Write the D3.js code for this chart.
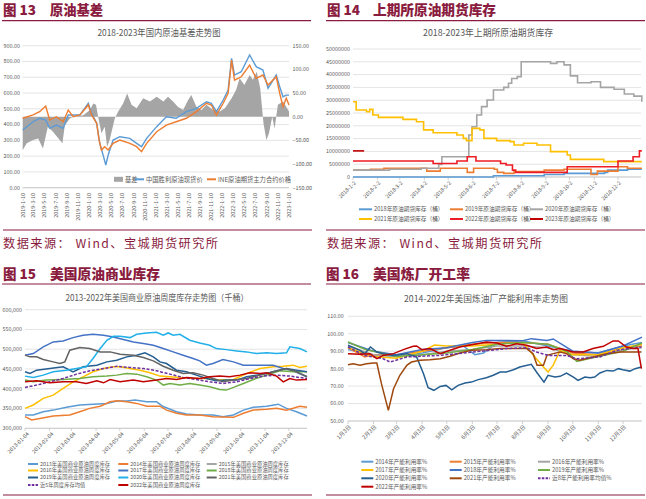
<!DOCTYPE html>
<html><head><meta charset="utf-8">
<script src="https://cdn.jsdelivr.net/npm/d3@7"></script>
<style>
body{margin:0;background:#fff}
svg{display:block}
text{font-family:"Noto Sans CJK SC","Noto Sans",sans-serif}
</style>
</head><body><svg id="c" width="646" height="499"></svg>
<script>
// ================= DATA =================
// Chart 13: 2018-2023 domestic crude basis (date, value)
const c13Basis = [["2019-01-10",-71],["2019-02-01",-56],["2019-03-08",-49],["2019-04-05",-46],["2019-05-01",-67],["2019-05-28",-21],["2019-06-25",-32],["2019-08-01",-49],["2019-08-16",-56],["2019-08-29",-18],["2019-09-26",-4],["2019-10-14",0],["2019-12-08",3],["2020-01-14",14],["2020-02-01",28],["2020-02-16",25],["2020-02-28",0],["2020-03-17",-35],["2020-04-04",-21],["2020-04-17",-64],["2020-05-01",-49],["2020-05-29",-4],["2020-06-17",11],["2020-07-14",28],["2020-08-05",49],["2020-08-29",25],["2020-09-26",18],["2020-11-01",39],["2020-12-08",32],["2021-01-14",42],["2021-02-20",32],["2021-03-17",42],["2021-04-14",32],["2021-05-10",21],["2021-06-08",14],["2021-07-05",35],["2021-07-23",46],["2021-08-20",21],["2021-09-17",14],["2021-10-14",25],["2021-11-20",14],["2021-12-26",11],["2022-01-23",18],["2022-02-10",28],["2022-03-01",39],["2022-03-26",57],["2022-04-14",81],["2022-05-10",67],["2022-06-08",88],["2022-06-26",78],["2022-07-17",95],["2022-08-05",60],["2022-08-23",-14],["2022-09-08",-49],["2022-09-22",-35],["2022-10-10",0],["2022-10-23",-25],["2022-11-10",25],["2022-12-08",32],["2023-01-10",11]];
const c13Spot = [["2019-01-10",366],["2019-03-08",418],["2019-04-13",440],["2019-05-16",429],["2019-06-07",376],["2019-07-14",397],["2019-08-20",376],["2019-09-17",461],["2019-10-14",461],["2019-11-20",461],["2020-01-05",535],["2020-01-23",471],["2020-02-20",408],["2020-03-08",281],["2020-03-26",207],["2020-04-10",144],["2020-04-23",207],["2020-05-20",302],["2020-06-26",323],["2020-08-20",313],["2020-09-26",281],["2020-10-23",260],["2020-11-20",313],["2021-01-14",387],["2021-03-08",450],["2021-05-01",440],["2021-06-26",482],["2021-08-20",503],["2021-10-14",545],["2021-11-10",535],["2021-12-08",482],["2022-01-14",556],["2022-02-10",619],["2022-03-01",820],["2022-03-17",714],["2022-04-23",735],["2022-06-08",841],["2022-07-14",767],["2022-08-20",746],["2022-09-17",630],["2022-11-01",714],["2022-11-20",640],["2022-12-08",577],["2022-12-26",587],["2023-01-10",587]];
const c13Fut = [["2019-01-10",440],["2019-03-08",461],["2019-04-13",482],["2019-05-16",518],["2019-06-07",429],["2019-07-14",450],["2019-08-20",418],["2019-09-17",492],["2019-10-14",450],["2019-11-20",461],["2020-01-05",524],["2020-01-23",461],["2020-02-20",408],["2020-03-04",302],["2020-03-17",239],["2020-04-04",260],["2020-04-23",239],["2020-05-20",281],["2020-06-26",302],["2020-08-20",281],["2020-09-26",260],["2020-10-23",228],["2020-11-20",281],["2021-01-14",355],["2021-03-08",397],["2021-05-01",418],["2021-06-26",440],["2021-08-20",482],["2021-10-14",535],["2021-11-10",524],["2021-12-08",461],["2022-01-14",535],["2022-02-10",598],["2022-03-01",809],["2022-03-17",682],["2022-04-23",703],["2022-06-08",777],["2022-07-14",693],["2022-08-20",714],["2022-09-17",651],["2022-11-01",703],["2022-11-20",598],["2022-12-08",513],["2022-12-26",567],["2023-01-10",524]];
const c13LeftTicks = [0,100,200,300,400,500,600,700,800,900];
const c13RightTicks = [-150,-100,-50,0,50,100,150];
const c13XLabels = ["2019-1-10","2019-3-10","2019-5-10","2019-7-10","2019-9-10","2019-11-10","2020-1-10","2020-3-10","2020-5-10","2020-7-10","2020-9-10","2020-11-10","2021-1-10","2021-3-10","2021-5-10","2021-7-10","2021-9-10","2021-11-10","2022-1-10","2022-3-10","2022-5-10","2022-7-10","2022-9-10","2022-11-10","2023-1-10"];
const c13Legend = ["基差","中国胜利原油现货价","INE原油期货主力合约价格"];

// Chart 14: SHFE crude futures inventory, [day offset from 1-2, barrels] (step series)
const c14Inv2018 = [[0,0],[177,500000],[241,1000000],[266,1400000],[317,1800000],[321,2700000],[346,3000000],[364,3000000]];
const c14Inv2019 = [[0,2700000],[22,3000000],[39,3400000],[93,2300000],[110,3400000],[144,1800000],[152,3400000],[178,3000000],[182,1800000],[190,1400000],[203,2100000],[241,2700000],[266,3000000],[300,1000000],[308,2300000],[334,4000000],[346,3400000],[364,3400000]];
const c14Inv2020 = [[0,2700000],[46,3000000],[86,3400000],[108,4900000],[112,7900000],[142,7900000],[146,16400000],[150,19600000],[156,24200000],[162,27500000],[169,30100000],[177,34000000],[190,35000000],[196,36600000],[200,38500000],[207,39200000],[212,45000000],[249,44400000],[257,45000000],[266,43800000],[274,39500000],[283,36800000],[300,37200000],[312,35000000],[329,34300000],[342,32400000],[354,31600000],[364,29400000]];
const c14Inv2021 = [[0,29400000],[4,26200000],[17,25500000],[21,26400000],[25,24200000],[32,23300000],[63,22500000],[80,21600000],[89,18400000],[101,17300000],[131,16400000],[139,15100000],[143,14200000],[150,19000000],[160,18400000],[165,15100000],[181,14200000],[198,13800000],[203,12500000],[215,13200000],[232,12500000],[249,9900000],[270,8600000],[274,6900000],[316,6000000],[364,6000000]];
const c14Inv2022 = [[0,6250000],[101,5300000],[131,6250000],[144,7900000],[155,6250000],[186,5300000],[193,4700000],[201,2700000],[205,1800000],[270,4000000],[334,6250000],[353,7900000],[361,10200000],[364,10200000]];
const c14Inv2023 = [[0,10200000],[14,10200000]];
const c14YTicks = [0,5000000,10000000,15000000,20000000,25000000,30000000,35000000,40000000,45000000,50000000];
const c14XLabels = ["2018-1-2","2018-2-2","2018-3-2","2018-4-2","2018-5-2","2018-6-2","2018-7-2","2018-8-2","2018-9-2","2018-10-2","2018-11-2","2018-12-2"];
const c14Legend = ["2018年原油期货库存（桶）","2019年原油期货库存（桶）","2020年原油期货库存（桶）","2021年原油期货库存（桶）","2022年原油期货库存（桶）","2023年原油期货库存（桶）"];

// Chart 15: US commercial crude stocks, [week index, thousand-thousand barrels]
const c15S2013 = [[0,333.6],[1.5,333.6],[3.3,342],[5.1,346],[7.5,353],[9.9,359],[12.3,361],[14.8,363],[16.6,369],[18.4,369],[19.9,371.4],[22,367],[23.8,367],[25,355],[27.4,342],[29.2,336],[31.6,333.6],[34,333.6],[35.8,329.4],[37.7,333.6],[39.5,346],[41.3,353],[43.7,356],[45.8,361],[47.3,350.4],[49.1,342],[51,331]];
const c15S2014 = [[0,329.4],[1.2,321],[2.7,325],[5.1,331],[8.1,333.6],[9.9,342],[11.7,350.4],[13.6,356],[15.4,367],[16.6,369.8],[18.4,367],[20.2,363],[22,356],[24.4,356],[25.6,346],[27.4,338],[29.2,333.6],[31.6,333.6],[34,329.4],[37.7,327.7],[39.5,338],[41.3,346],[43.7,348],[45.5,350.4],[47.3,346],[49.7,356],[51,353]];
const c15S2016 = [[0,350.4],[1.5,359],[3.3,375.6],[5.1,384],[6.9,400.8],[8.7,417.6],[10.5,430],[12.3,443],[14.2,451.3],[16,455.5],[17.2,455.5],[19,451.3],[20.8,447],[22.6,440.3],[24.4,432],[26.2,430.3],[28,428.6],[30.4,426],[32.8,426],[35.2,421.9],[37.7,423.5],[40.1,438.7],[42.5,451.3],[44.9,455.5],[46.7,457],[48.5,459.7],[49.7,453.8],[51,457]];
const c15S2017 = [[0,485],[1.5,489],[3.3,506],[5.1,518.5],[6.9,521],[8.7,529.4],[10.5,535.3],[12.3,537.8],[14.2,535.3],[16,531],[17.8,524.4],[19.6,518.5],[21.4,514.3],[23.2,510],[25,501.7],[26.8,493.3],[28.6,485],[30.4,476.5],[31.6,470.6],[32.8,459.7],[34,464],[35.8,474],[37.7,468],[39.5,459.7],[41.3,459.7],[43.1,459.7],[44.9,459.7],[46.7,451.3],[48.5,445.4],[51,430.3]];
const c15S2018 = [[0,421.9],[1.5,417.6],[3.9,421.9],[6.9,423.5],[9.9,426],[12.3,430.3],[14.8,432],[16.6,434.5],[18.4,438.7],[20.2,437],[22,430.3],[23.8,421.9],[25,409.3],[26.2,413.5],[28,409.3],[29.8,413.5],[31.6,409.3],[33.4,405],[35.2,398.3],[36.4,396.6],[37.7,403.4],[39.5,413.5],[41.3,423.5],[43.7,434.5],[46.1,445.4],[48.5,442.9],[51,442.9]];
const c15S2019 = [[0,442.9],[0.9,438.7],[2.1,447],[4.5,451.3],[6.9,455.5],[8.7,442.9],[10.5,455.5],[13,459.7],[14.8,468],[16.6,472.3],[18.4,480.7],[20.2,484.9],[21.7,490.8],[23.2,480.7],[24.4,468],[25.6,463.9],[27.4,447],[29.2,442.9],[31,434.5],[32.8,426],[34.6,420.2],[36.4,421.9],[38.3,421.9],[40.1,430.3],[41.9,434.5],[43.7,438.7],[45.5,445.4],[47.3,451.3],[49.1,447],[51,442.9]];
const c15S2020 = [[0,432],[1.5,428.6],[3.3,434.5],[5.1,442.9],[7.5,447],[9.3,451.3],[11.1,455.5],[12.3,476.5],[13.6,501.7],[14.8,522.7],[16,532.8],[17.2,532.8],[19,529.4],[20.2,537.8],[22,541.2],[23.8,542.9],[25,535.3],[25.9,541.2],[26.8,535.3],[28,537.8],[29.8,522.7],[31.6,516],[33.4,510],[34.6,501.7],[36.4,499],[38.3,495.8],[40.1,493.3],[41.9,489],[43.7,490.8],[45.5,489],[47.3,490.8],[47.9,506],[49.7,501.7],[51,493.3]];
const c15S2021 = [[0,485],[0.9,480.7],[2.1,480.7],[3.3,474],[5.1,468],[6.3,463.9],[7.2,468],[8.1,497.5],[9.9,504.2],[11.7,501.7],[13.6,493.3],[15.4,493.3],[17.2,487.4],[19.6,484.9],[21.4,479],[23.2,470.6],[25,457],[26.8,447],[28.6,438.7],[30.4,440.3],[32.2,434.5],[34,426],[35.8,417.6],[37.7,421.9],[40.1,426],[42.5,434.5],[44.9,442.9],[47.3,451.3],[49.1,442.9],[51,430.3]];
const c15Avg5 = [[0,403.4],[2.1,409.3],[4.5,417.6],[6.9,426],[9.3,437],[11.7,445.4],[14.2,451.3],[16.6,457],[19,453.8],[21.4,451.3],[23.8,445.4],[26.2,437],[28.6,428.6],[31,423.5],[33.4,417.6],[35.8,413.5],[38.3,417.6],[40.7,426],[43.1,432],[45.5,434.5],[47.9,432],[51,426]];
const c15S2022 = [[0,417.6],[2.1,420.2],[4.5,415.1],[6.9,417.6],[9.3,417.6],[11.1,413.5],[13,420.2],[14.2,415.1],[15.4,423.5],[17.2,417.6],[19.6,421.9],[21.4,417.6],[23.8,421.9],[25.6,426],[27.4,423.5],[29.2,428.6],[31.6,426],[33.4,430.3],[35.2,432],[37,430.3],[38.9,434.5],[40.7,440.3],[42.5,438.7],[43.7,440.3],[45.5,432],[46.7,417.6],[47.9,426],[49.1,421.9],[51,423.5]];
const c15YTicks = [300,350,400,450,500,550,600];
const c15XLabels = ["2013-01-04","2013-02-04","2013-03-04","2013-04-04","2013-05-04","2013-06-04","2013-07-04","2013-08-04","2013-09-04","2013-10-04","2013-11-04","2013-12-04"];
const c15Legend = ["2013年美国商业原油周度库存","2014年美国商业原油周度库存","2015年美国商业原油周度库存","2016年美国商业原油周度库存","2017年美国商业原油周度库存","2018年美国商业原油周度库存","2019年美国商业原油周度库存","2020年美国商业原油周度库存","2021年美国商业原油周度库存","近5年周度库存均值","2022年美国商业原油周度库存"];

// Chart 16: US refinery utilization, [week index, %]
const c16R2014 = [[0,91],[4.4,88],[8.4,87],[12.9,89],[17.1,92],[20,93],[22,88],[23.5,89],[25.9,95],[30.3,96],[34.7,93],[39,90],[43.4,89],[47.7,93],[51,95]];
const c16R2015 = [[0,92],[2.9,86.7],[4.4,88],[8.4,88],[12.9,90],[17.1,92],[21.6,94],[25.9,95],[30.3,95],[34.7,94],[39,89],[43.4,88],[47.7,92],[51,93]];
const c16R2016 = [[0,93],[4.4,88],[8.4,87],[12.9,88],[17.1,90],[21.6,91],[25.9,93],[30.3,93],[34.7,92],[39,88],[43.4,87],[47.7,91],[51,92]];
const c16R2017 = [[0,92],[4.4,87],[8.4,86],[12.9,90],[15,93.5],[17.1,93],[21.6,93],[25.9,94],[30.3,95],[33.9,81],[34.7,78.1],[35.6,82],[36.8,90.5],[39,88],[43.4,88],[47.7,92],[51,94]];
const c16R2018 = [[0,95],[4.4,90],[8.4,88],[12.9,91],[17.1,92],[21.6,95],[24,96.2],[26.4,96.2],[30.3,96],[31.8,97.2],[34.5,96.2],[35.6,97],[39,90],[43.4,89],[47.7,93],[51,98.1]];
const c16R2019 = [[0,95.3],[3,91],[4.4,90],[8.4,87],[12.9,88],[17.1,89],[21.6,91],[25.9,94],[30.3,95],[34.7,94],[37.9,90],[39.7,84.2],[43.4,87],[47.7,90],[51,94.7]];
const c16R2020 = [[0,93.4],[2.1,90.5],[2.9,88.6],[3.9,92.4],[5,89.5],[6.1,88.6],[7.9,87.6],[10.2,88.6],[11.9,86.7],[13.1,77.1],[13.9,69.1],[14.9,67.6],[16,69.8],[17,70.4],[18,67.9],[19.1,70.4],[20.3,71.8],[21.4,72.3],[22.6,73.7],[24,74.8],[25.2,76.2],[26.4,78.1],[27.5,78.1],[28.7,79.4],[29.8,80.9],[31.8,82.5],[32.7,78.1],[34,72.3],[34.7,76.2],[35.9,75.2],[36.8,75.6],[37.9,77.5],[39.1,75.2],[39.9,73.3],[41.1,75.2],[42,74.8],[42.8,75.2],[43.7,77.5],[44.9,79],[46,78.6],[46.9,80],[47.7,79.4],[48.9,78.6],[49.8,80],[50.9,80.9]];
const c16R2021 = [[0,82.3],[0.9,82.8],[2.1,81.9],[3.2,82.8],[4.4,83.2],[5,83.2],[5.8,71.4],[7,56.1],[7.9,68.5],[9,76.2],[10.2,81.9],[11,83.8],[12.5,84.8],[14.2,85.1],[16,85.7],[17.7,87.1],[19.4,89],[21.4,90.5],[24,90.9],[26.4,91.5],[28.7,91.5],[31,91.5],[32.1,88.6],[32.8,81.9],[33.9,81.9],[34.5,87.6],[35.6,88.6],[36.8,89.5],[37.9,88.6],[39.1,85.7],[40.2,84.8],[42.5,86.7],[44.9,88.6],[47.2,89.5],[48.9,89.5],[50.9,89.5]];
const c16Avg8 = [[0,92.4],[2.9,87.6],[6.1,85.7],[7.3,83.8],[10.2,86.7],[16,87.6],[21.7,89.5],[27.5,91.5],[31,92],[32.7,89.5],[34.7,87.6],[37.9,87.6],[39.7,85.7],[43.7,86.7],[46.6,90.5],[50.9,92.4]];
const c16R2022 = [[0,88.6],[2.1,88.2],[3.8,88.6],[5,85.7],[6.1,87.6],[7.9,88.6],[9.6,90.9],[11.3,92.8],[11.9,93],[12.8,90.9],[14.2,91.5],[16,88.6],[17.7,90.5],[19.4,92.4],[21.7,93.9],[24,95.3],[25.8,94.7],[27.5,92.8],[29.2,94.3],[31,93.4],[32.7,91.5],[34.5,92.4],[35.6,90.9],[36.8,91.5],[39.1,89.5],[40.8,89.5],[42.5,91.5],[44.3,92.8],[46,95.9],[46.9,95.9],[48.3,92.4],[49.5,91.5],[50.3,91.5],[50.9,80]];
const c16YTicks = [50,60,70,80,90,100,110];
const c16XLabels = ["1月3日","2月3日","3月3日","4月3日","5月3日","6月3日","7月3日","8月3日","9月3日","10月3日","11月3日","12月3日"];
const c16Legend = ["2014年产能利用率%","2015年产能利用率%","2016年产能利用率%","2017年产能利用率%","2018年产能利用率%","2019年产能利用率%","2020年产能利用率%","2021年产能利用率%","近8年产能利用率均值%","2022年产能利用率%"];

// ================= DRAW =================
const svg = d3.select("#c");
svg.append("rect").attr("width",646).attr("height",499).attr("fill","#fff");
const MAROON = "#8a1c40", TXT = "#595959", GRID = "#d9d9d9";
const parse = d3.timeParse("%Y-%m-%d");

function header(x, y, num, title, tx, tw) {
  svg.append("text").attr("x", x).attr("y", y).attr("fill", MAROON)
    .attr("font-size", 13.5).attr("font-weight", 900).text("图 " + num);
  svg.append("text").attr("x", tx).attr("y", y).attr("fill", MAROON)
    .attr("font-size", 13.5).attr("font-weight", 900)
    .attr("textLength", tw).attr("lengthAdjust", "spacingAndGlyphs").text(title);
}
function sep(x1, x2, y) {
  svg.append("line").attr("x1", x1).attr("x2", x2).attr("y1", y).attr("y2", y)
    .attr("stroke", MAROON).attr("stroke-width", 1.2);
}
function footer(x, y) {
  svg.append("text").attr("x", x).attr("y", y).attr("fill", MAROON).attr("font-size", 12.2)
    .attr("textLength", 215).attr("lengthAdjust", "spacing")
    .text("数据来源：  Wind、宝城期货研究所");
}
function ctitle(cx, y, t, w, fs) {
  svg.append("text").attr("x", cx - w / 2).attr("y", y).attr("fill", TXT).attr("font-size", fs)
    .attr("textLength", w).attr("lengthAdjust", "spacingAndGlyphs").text(t);
}
function gridH(ticks, y, x1, x2) {
  svg.append("g").selectAll("line").data(ticks).join("line")
    .attr("x1", x1).attr("x2", x2).attr("y1", d => y(d)).attr("y2", d => y(d))
    .attr("stroke", GRID).attr("stroke-width", 0.7);
}
function yLabels(ticks, y, x, anchor, fmt) {
  svg.append("g").selectAll("text").data(ticks).join("text")
    .attr("x", x).attr("y", d => y(d)).attr("dy", "0.35em").attr("text-anchor", anchor)
    .attr("font-size", 5.4).attr("fill", TXT).text(fmt);
}
function legendLine(x, y, color, label, fs, dash, len) {
  const g = svg.append("g");
  g.append("line").attr("x1", x).attr("x2", x + (len || 12)).attr("y1", y).attr("y2", y)
    .attr("stroke", color).attr("stroke-width", 2).attr("stroke-dasharray", dash || null);
  g.append("text").attr("x", x + (len || 12) + 2).attr("y", y).attr("dy", "0.35em")
    .attr("font-size", fs).attr("fill", TXT).text(label);
}

// ---------- Headers & frames ----------
header(3, 14.5, "13", "原油基差", 50, 53);
header(327, 14.5, "14", "上期所原油期货库存", 373, 123);
header(3, 278.5, "15", "美国原油商业库存", 50, 110);
header(326, 278.5, "16", "美国炼厂开工率", 373, 97);
sep(2, 311, 20.7); sep(326, 645, 20.7);
sep(2, 311, 284); sep(326, 645, 284);
sep(3, 312, 230); sep(326, 645, 230);
sep(3, 312, 495); sep(326, 645, 495);
footer(3, 247.5); footer(327, 247.5);

// ---------- Chart 13 ----------
{
  const x = d3.scaleTime().domain([parse("2019-01-10"), parse("2023-01-10")]).range([22.7, 289]);
  const yL = d3.scaleLinear().domain([0, 900]).range([187.7, 45.7]);
  const yR = d3.scaleLinear().domain([-150, 150]).range([187.7, 45.7]);
  ctitle(159, 36.3, "2018-2023年国内原油基差走势图", 123, 9.3);
  gridH(c13LeftTicks, yL, 22.7, 289);
  yLabels(c13LeftTicks, yL, 20, "end", d3.format(".2f"));
  yLabels(c13RightTicks, yR, 292.5, "start", d3.format(".2f"));
  const pd = a => a.map(d => [parse(d[0]), d[1]]);
  svg.append("path").datum(pd(c13Basis)).attr("fill", "#a5a5a5")
    .attr("d", d3.area().x(d => x(d[0])).y0(yR(0)).y1(d => yR(d[1])));
  const ln = d3.line().x(d => x(d[0])).y(d => yL(d[1]));
  svg.append("path").datum(pd(c13Spot)).attr("fill", "none").attr("stroke", "#5b9bd5").attr("stroke-width", 1.4).attr("d", ln);
  svg.append("path").datum(pd(c13Fut)).attr("fill", "none").attr("stroke", "#ed7d31").attr("stroke-width", 1.4).attr("d", ln);
  svg.append("line").attr("x1", 22.7).attr("x2", 289).attr("y1", 187.7).attr("y2", 187.7).attr("stroke", "#bfbfbf").attr("stroke-width", 0.7);
  svg.append("g").selectAll("text").data(c13XLabels).join("text")
    .attr("transform", d => `translate(${x(parse(d))},193) rotate(-90)`)
    .attr("text-anchor", "end").attr("dy", "0.35em").attr("font-size", 5.4).attr("fill", TXT).text(d => d);
  // legend
  svg.append("rect").attr("x", 114).attr("y", 176.8).attr("width", 9).attr("height", 5).attr("fill", "#a5a5a5");
  svg.append("text").attr("x", 125).attr("y", 179.3).attr("dy", "0.35em").attr("font-size", 6.3).attr("fill", TXT).text(c13Legend[0]);
  legendLine(135, 179.3, "#5b9bd5", c13Legend[1], 6.3, null, 9);
  legendLine(207, 179.3, "#ed7d31", c13Legend[2], 6.3, null, 9);
}

// ---------- Chart 14 ----------
{
  const start = parse("2018-01-02");
  const x = d3.scaleTime().domain([start, parse("2018-12-31")]).range([353, 641]);
  const y = d3.scaleLinear().domain([0, 50000000]).range([177, 49]);
  ctitle(488, 36.3, "2018-2023年上期所原油期货库存", 130, 9.3);
  gridH(c14YTicks, y, 353, 641);
  yLabels(c14YTicks, y, 350, "end", d => String(d));
  svg.append("line").attr("x1", 353).attr("x2", 641).attr("y1", 177).attr("y2", 177).attr("stroke", "#bfbfbf").attr("stroke-width", 0.7);
  svg.append("g").selectAll("line").data(c14XLabels).join("line")
    .attr("x1", d => x(parse(d))).attr("x2", d => x(parse(d))).attr("y1", 177).attr("y2", 180)
    .attr("stroke", "#bfbfbf").attr("stroke-width", 0.7);
  const ln = d3.line().curve(d3.curveStepAfter).x(d => x(d3.timeDay.offset(start, d[0]))).y(d => y(d[1]));
  const series = [[c14Inv2018, "#5b9bd5"], [c14Inv2019, "#ed7d31"], [c14Inv2020, "#a5a5a5"], [c14Inv2021, "#ffc000"], [c14Inv2022, "#ee1c25"], [c14Inv2023, "#c00000"]];
  series.forEach(s => svg.append("path").datum(s[0]).attr("fill", "none").attr("stroke", s[1]).attr("stroke-width", 1.6).attr("d", ln));
  svg.append("g").selectAll("text").data(c14XLabels).join("text")
    .attr("transform", d => `translate(${x(parse(d)) + 2},182) rotate(-45)`)
    .attr("text-anchor", "end").attr("dy", "0.35em").attr("font-size", 5.4).attr("fill", TXT).text(d => d);
  const cols = [359, 450, 530];
  series.forEach((s, i) => legendLine(cols[i % 3], i < 3 ? 209.3 : 219, s[1], c14Legend[i], 5.7, null, 13));
}

// ---------- Chart 15 ----------
{
  const start = new Date(2013, 0, 4);
  const x = d3.scaleLinear().domain([0, 357]).range([25, 307]);
  const y = d3.scaleLinear().domain([300, 600]).range([428.3, 309.7]);
  ctitle(157, 300.5, "2013-2022年美国商业原油周度库存走势图（千桶）", 183, 8.7);
  gridH(c15YTicks, y, 25, 307);
  yLabels(c15YTicks, y, 22, "end", d => d3.format(",")(d * 1000));
  const tx = d => x(d3.timeDay.count(start, parse(d)));
  svg.append("line").attr("x1", 25).attr("x2", 307).attr("y1", 428.3).attr("y2", 428.3).attr("stroke", "#bfbfbf").attr("stroke-width", 0.7);
  svg.append("g").selectAll("line").data(c15XLabels).join("line")
    .attr("x1", tx).attr("x2", tx).attr("y1", 428.3).attr("y2", 431).attr("stroke", "#bfbfbf").attr("stroke-width", 0.7);
  const ln = d3.line().x(d => x(d[0] * 7)).y(d => y(d[1]));
  const series = [
    [c15S2013, "#5b9bd5"], [c15S2014, "#ed7d31"], [null, "#a5a5a5"],
    [c15S2016, "#ffc000"], [c15S2017, "#4472c4"], [c15S2018, "#70ad47"],
    [c15S2019, "#255e91"], [c15S2020, "#22b0e8"], [c15S2021, "#636363"],
    [c15Avg5, "#7030a0", "3,1.6"], [c15S2022, "#c00000"]];
  series.forEach(s => { if (s[0]) svg.append("path").datum(s[0]).attr("fill", "none").attr("stroke", s[1]).attr("stroke-width", 1.5).attr("stroke-dasharray", s[2] || null).attr("d", ln); });
  svg.append("g").selectAll("text").data(c15XLabels).join("text")
    .attr("transform", d => `translate(${tx(d) + 3},433) rotate(-45)`)
    .attr("text-anchor", "end").attr("dy", "0.35em").attr("font-size", 5.4).attr("fill", TXT).text(d => d);
  const cols = [28, 118.3, 206.7], rows = [464, 470.5, 477.5, 485];
  series.forEach((s, i) => legendLine(cols[i % 3], rows[Math.floor(i / 3)], s[1], c15Legend[i], 5.3, s[2] ? "2.5,1.3" : null, 10));
}

// ---------- Chart 16 ----------
{
  const start = new Date(2022, 0, 3);
  const x = d3.scaleLinear().domain([0, 357]).range([348, 642]);
  const y = d3.scaleLinear().domain([50, 110]).range([421, 316.3]);
  ctitle(486, 302, "2014-2022年美国炼油厂产能利用率走势图", 164, 8.6);
  gridH(c16YTicks, y, 348, 642);
  yLabels(c16YTicks, y, 343.7, "end", d3.format(".2f"));
  const tx = (d, i) => x(d3.timeDay.count(start, new Date(2022, i, 3)));
  svg.append("line").attr("x1", 348).attr("x2", 642).attr("y1", 421).attr("y2", 421).attr("stroke", "#bfbfbf").attr("stroke-width", 0.7);
  svg.append("g").selectAll("line").data(c16XLabels).join("line")
    .attr("x1", tx).attr("x2", tx).attr("y1", 421).attr("y2", 424).attr("stroke", "#bfbfbf").attr("stroke-width", 0.7);
  const ln = d3.line().x(d => x(d[0] * 7)).y(d => y(d[1]));
  const series = [
    [c16R2014, "#5b9bd5"], [c16R2015, "#ed7d31"], [c16R2016, "#a5a5a5"],
    [c16R2017, "#ffc000"], [c16R2018, "#4472c4"], [c16R2019, "#70ad47"],
    [c16R2020, "#255e91"], [c16R2021, "#9e480e"], [c16Avg8, "#7030a0", "3,1.6"],
    [c16R2022, "#c00000"]];
  series.forEach(s => svg.append("path").datum(s[0]).attr("fill", "none").attr("stroke", s[1]).attr("stroke-width", 1.5).attr("stroke-dasharray", s[2] || null).attr("d", ln));
  svg.append("g").selectAll("text").data(c16XLabels).join("text")
    .attr("transform", (d, i) => `translate(${tx(d, i) + 2},426) rotate(-45)`)
    .attr("text-anchor", "end").attr("dy", "0.35em").attr("font-size", 5.6).attr("fill", TXT).text(d => d);
  const cols = [361.3, 449.7, 538], rows = [461.7, 470, 478.3, 486.7];
  series.forEach((s, i) => legendLine(cols[i % 3], rows[Math.floor(i / 3)], s[1], c16Legend[i], 5.7, s[2] ? "2.5,1.3" : null, 12));
}
</script></body></html>
